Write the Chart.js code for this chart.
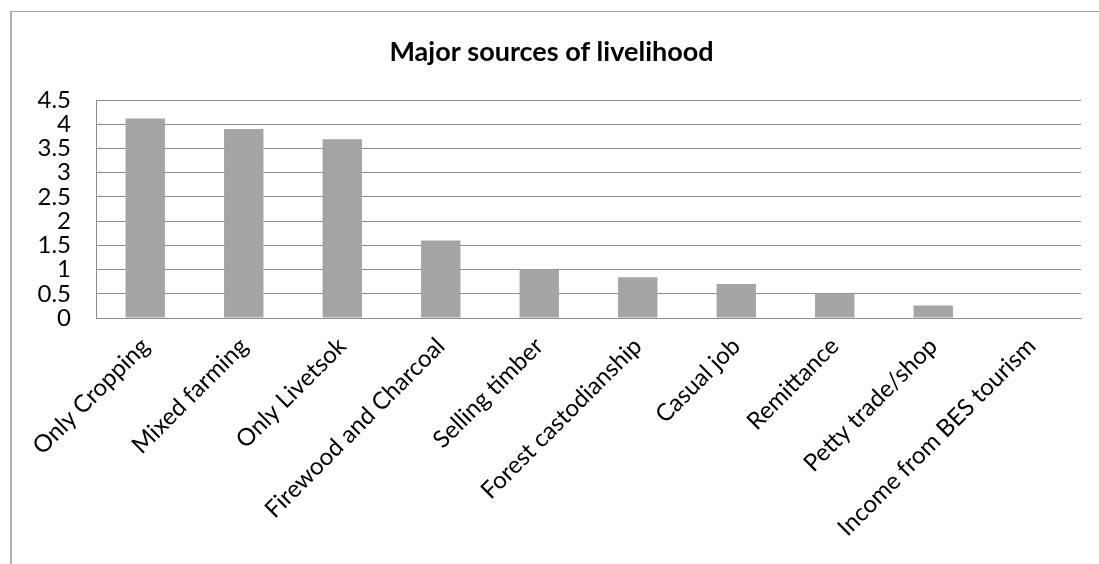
<!DOCTYPE html>
<html>
<head>
<meta charset="utf-8">
<script src="https://cdn.jsdelivr.net/npm/chart.js@4/dist/chart.umd.min.js"></script>
<style>
    html, body { margin: 0; padding: 0; background: #fff; overflow: hidden; }
    #wrap { position: relative; width: 1099px; height: 564px; }
    #frame { position: absolute; left: 10px; top: 11px; width: 1200px; height: 700px;
             border-top: 1px solid #a6a6a6; border-left: 2px solid #b0b0b0; }
    canvas { position: absolute; left: 0; top: 0; }
</style>
</head>
<body>
<div id="wrap">
    <div id="frame"></div>
    <canvas id="chart" width="1099" height="564"></canvas>
</div>

<script>
    var chartTitle = 'Major sources of livelihood';

    var sources = ['Only Cropping', 'Mixed farming', 'Only Livetsok', 'Firewood and Charcoal',
                   'Selling timber', 'Forest castodianship', 'Casual job', 'Remittance',
                   'Petty trade/shop', 'Income from BES tourism'];

    var scores = [4.12, 3.9, 3.69, 1.6, 1.0, 0.84, 0.7, 0.5, 0.26, 0];

    var yMax = 4.5;
    var yStep = 0.5;

    var fontFamily = 'Lato, "Noto Sans", sans-serif';
    var gridColor = '#8c8c8c';

    var ctx = document.getElementById('chart');
    var chart = new Chart(ctx, {
        type: 'bar',
        data: {
            labels: sources,
            datasets: [{
                label: 'Series1',
                data: scores,
                backgroundColor: '#a5a5a5',
                borderWidth: 0,
                barPercentage: 0.4,
                categoryPercentage: 1.0
            }]
        },
        options: {
            responsive: false,
            animation: false,
            layout: { padding: { left: 22, right: 18, top: 0, bottom: 0 } },
            plugins: {
                legend: { display: false },
                tooltip: { enabled: false },
                title: {
                    display: true,
                    text: chartTitle,
                    color: '#000',
                    font: { family: fontFamily, size: 27, weight: 'bold' },
                    padding: { top: 36, bottom: 31.6 }
                }
            },
            scales: {
                x: {
                    grid: { display: false, drawTicks: false },
                    border: { display: true, color: gridColor, width: 1 },
                    ticks: {
                        color: '#000',
                        font: { family: fontFamily, size: 24 },
                        maxRotation: 45,
                        minRotation: 45,
                        autoSkip: false,
                        padding: 14
                    },
                    afterFit: function(scale) { scale.height = 246; }
                },
                y: {
                    min: 0,
                    max: yMax,
                    grid: { color: gridColor, drawTicks: false },
                    border: { display: true, color: gridColor, width: 1 },
                    ticks: {
                        stepSize: yStep,
                        autoSkip: false,
                        color: '#000',
                        font: { family: fontFamily, size: 24 },
                        padding: 25,
                        callback: function(v) { return String(v); }
                    },
                    afterFit: function(scale) { scale.width = 74; }
                }
            }
        }
    });
</script>
</body>
</html>
